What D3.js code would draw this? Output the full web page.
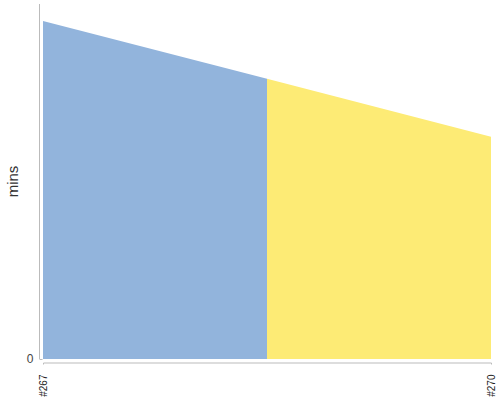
<!DOCTYPE html>
<html>
<head>
<meta charset="utf-8">
<script src="https://cdn.jsdelivr.net/npm/d3@7"></script>
<style>
  body { margin: 0; background: #fff; }
  text { font-family: "Liberation Sans", Arial, sans-serif; }
</style>
</head>
<body>
<div id="chart"></div>
<script>
// builds and build duration (mins)
const builds = ["#267", "#269", "#270"];
const durations = [35, 29, 23];
const segmentColors = ["#92b4dc", "#fdeb75"];
const shownTicks = ["#267", "#270"];
const yTicks = [0];

const width = 500, height = 400;
const margin = { top: 4, right: 9, bottom: 41, left: 43 };

const svg = d3.select("#chart").append("svg")
    .attr("width", width)
    .attr("height", height);

const x = d3.scalePoint()
    .domain(builds)
    .range([margin.left, width - margin.right]);

const y = d3.scaleLinear()
    .domain([0, d3.max(durations) * 1.05])
    .range([height - margin.bottom, margin.top]);

const data = builds.map((b, i) => ({ build: b, value: durations[i] }));

const area = d3.area()
    .x(d => x(d.build))
    .y0(y(0))
    .y1(d => y(d.value));

// one segment per pair of neighbouring builds
for (let i = 0; i < data.length - 1; i++) {
    svg.append("path")
        .datum([data[i], data[i + 1]])
        .attr("fill", segmentColors[i])
        .attr("d", area);
}

// y axis
const yAxis = svg.append("g")
    .attr("transform", `translate(${margin.left - 3.5},0)`)
    .call(d3.axisLeft(y).tickValues(yTicks).tickSize(-3).tickSizeOuter(0).tickPadding(6));
yAxis.select(".domain").attr("stroke", "#bbb")
    .attr("d", `M0,${margin.top}V${y(0)}`);
yAxis.selectAll(".tick line").attr("stroke", "#bbb");
yAxis.selectAll(".tick text")
    .attr("fill", "#444")
    .attr("font-size", 12)
    .attr("font-family", "Liberation Sans, Arial, sans-serif");

// x axis
const xAxis = svg.append("g")
    .attr("transform", `translate(0,${y(0) + 3.5})`)
    .call(d3.axisBottom(x).tickValues(shownTicks).tickSize(0).tickSizeOuter(2).tickPadding(0));
xAxis.select(".domain").attr("stroke", "#bbb");
xAxis.selectAll(".tick text")
    .attr("fill", "#222")
    .attr("font-size", 10)
    .attr("font-family", "Liberation Sans, Arial, sans-serif")
    .attr("text-anchor", "end")
    .attr("transform", "translate(0,12) rotate(-90)")
    .attr("x", 0)
    .attr("y", 0)
    .attr("dy", "0.35em");

// y label
svg.append("text")
    .attr("transform", `translate(18,${(margin.top + y(0)) / 2}) rotate(-90)`)
    .attr("text-anchor", "middle")
    .attr("fill", "#333")
    .attr("font-size", 15)
    .text("mins");
</script>
</body>
</html>
